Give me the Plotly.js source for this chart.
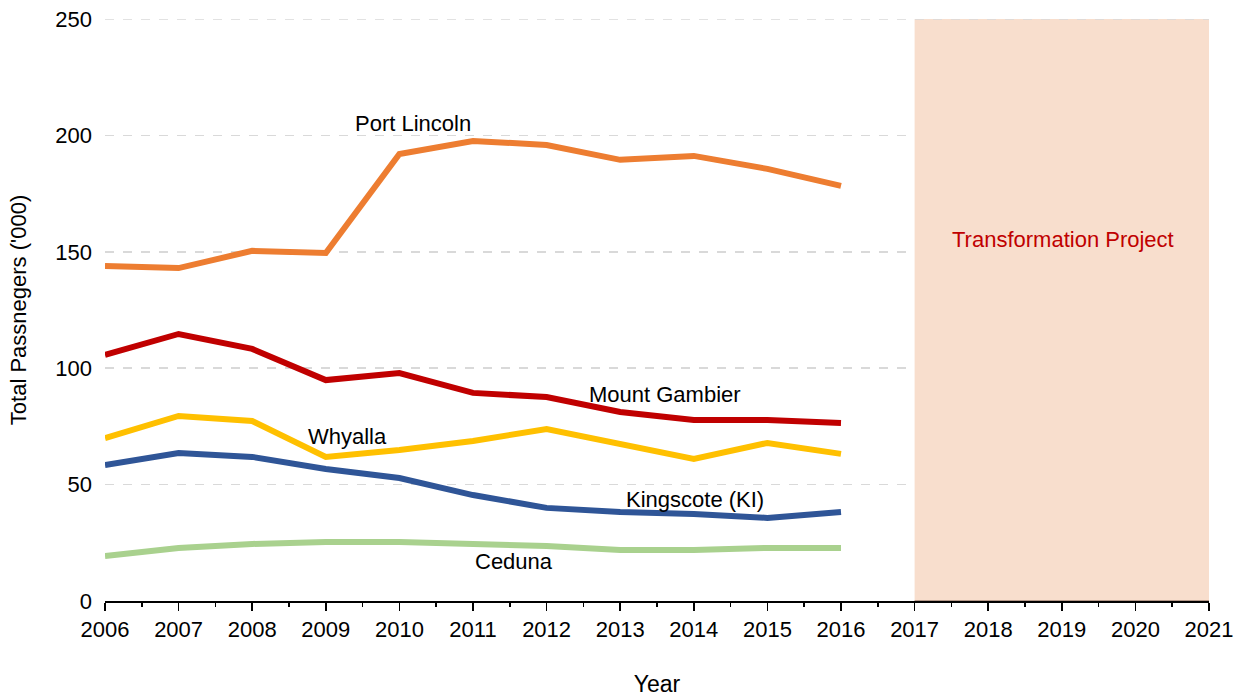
<!DOCTYPE html>
<html>
<head>
<meta charset="utf-8">
<script src="https://cdn.plot.ly/plotly-3.0.1.min.js"></script>
<style>html,body{margin:0;padding:0;background:#fff;}#chart{width:1242px;height:697px;}</style>
</head>
<body>
<div id="chart"></div>
<script>
const years = [2006, 2007, 2008, 2009, 2010, 2011, 2012, 2013, 2014, 2015, 2016];
const portLincoln = [143.9, 143.0, 150.4, 149.5, 192.0, 197.6, 195.9, 189.5, 191.2, 185.6, 178.3];
const mountGambier = [105.7, 114.7, 108.3, 94.9, 97.9, 89.4, 87.6, 81.2, 77.8, 77.8, 76.5];
const whyalla = [70.0, 79.5, 77.3, 61.9, 64.9, 68.7, 73.9, 67.4, 61.0, 67.9, 63.2];
const kingscote = [58.4, 63.6, 61.9, 56.7, 52.8, 45.5, 40.0, 38.2, 37.4, 35.7, 38.2];
const ceduna = [19.3, 22.8, 24.5, 25.3, 25.3, 24.5, 23.6, 21.9, 21.9, 22.8, 22.8];
const tickYears = [2006, 2007, 2008, 2009, 2010, 2011, 2012, 2013, 2014, 2015, 2016, 2017, 2018, 2019, 2020, 2021];
const yTicks = [0, 50, 100, 150, 200, 250];
const projectStart = 2017, projectEnd = 2021, projectTop = 250;

const font = 'Liberation Sans, Arial, sans-serif';
function series(name, y, color) {
  return {x: years, y: y, name: name, type: 'scatter', mode: 'lines',
    line: {color: color, width: 6}, hoverinfo: 'x+y'};
}
const data = [
  series('Port Lincoln', portLincoln, '#ED7D31'),
  series('Mount Gambier', mountGambier, '#C00000'),
  series('Whyalla', whyalla, '#FFC000'),
  series('Kingscote (KI)', kingscote, '#2F5597'),
  series('Ceduna', ceduna, '#A9D18E')
];
function label(text, x, y, color) {
  return {x: x, y: y, xref: 'x', yref: 'y', text: text, showarrow: false,
    font: {family: font, size: 22, color: color || '#000'}};
}
const layout = {
  width: 1242, height: 697,
  margin: {l: 105, r: 33, t: 19, b: 96},
  paper_bgcolor: '#fff', plot_bgcolor: '#fff',
  showlegend: false,
  font: {family: font, size: 22, color: '#000'},
  xaxis: {
    range: [2006, 2021], tickvals: tickYears, ticktext: tickYears.map(String),
    ticks: 'outside', ticklen: 8, tickwidth: 1.5, tickcolor: '#000',
    minor: {ticks: 'outside', dtick: 0.5, tick0: 2006, ticklen: 4, tickwidth: 1.5, tickcolor: '#000', showgrid: false},
    showline: true, linecolor: '#000', linewidth: 1.5,
    showgrid: false, zeroline: false,
    tickfont: {family: font, size: 22, color: '#000'},
    title: {text: 'Year', font: {family: font, size: 23, color: '#000'}, standoff: 36}
  },
  yaxis: {
    range: [0, 250], tickvals: yTicks,
    showline: false, ticks: '', showgrid: true, gridcolor: '#D9D9D9', griddash: 'dash', gridwidth: 1.5,
    zeroline: false,
    tickfont: {family: font, size: 22, color: '#000'},
    ticklabelstandoff: 12,
    title: {text: "Total Passnegers ('000)", font: {family: font, size: 22, color: '#000'}, standoff: 22}
  },
  shapes: [
    {type: 'rect', xref: 'x', yref: 'y', x0: projectStart, x1: projectEnd, y0: 0, y1: projectTop,
      fillcolor: '#F8DECD', line: {width: 0}, layer: 'above'},
    {type: 'line', xref: 'x', yref: 'y', x0: projectStart, x1: projectEnd, y0: 0, y1: 0,
      line: {color: '#9E8170', width: 1.5}, layer: 'above'},
    {type: 'line', xref: 'paper', yref: 'y', x0: 0, x1: 1, y0: projectTop, y1: projectTop,
      line: {color: '#D9D9D9', width: 1.5, dash: 'dash'}, layer: 'above'}
  ],
  annotations: [
    label('Port Lincoln', 2010.18, 205.3),
    label('Mount Gambier', 2013.61, 88.9),
    label('Whyalla', 2009.30, 70.5),
    label('Kingscote (KI)', 2014.02, 43.4),
    label('Ceduna', 2011.56, 16.8),
    label('Transformation Project', 2019.02, 155.1, '#C00000')
  ]
};
Plotly.newPlot('chart', data, layout, {displayModeBar: false, staticPlot: true});
</script>
</body>
</html>
